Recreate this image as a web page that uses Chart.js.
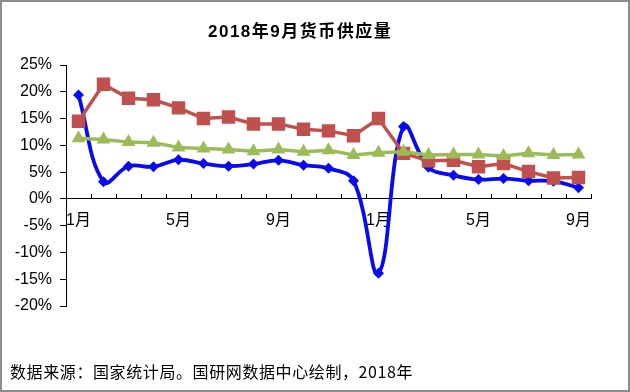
<!DOCTYPE html>
<html>
<head>
<meta charset="utf-8">
<script src="https://cdn.jsdelivr.net/npm/chart.js@4/dist/chart.umd.min.js"></script>
<style>
  html, body { margin: 0; padding: 0; background: #fff; }
  #wrap { position: relative; width: 630px; height: 392px; overflow: hidden; }
  #frame { position: absolute; left: 0; top: 0; width: 626px; height: 388px; border: 2px solid #8c8c8c; box-sizing: content-box; pointer-events: none; }
  #title { position: absolute; left: 208px; top: 17px; font: bold 17px "Liberation Sans", "Noto Sans CJK SC", sans-serif; color: #000; white-space: nowrap; letter-spacing: 1.5px; }
  #source { position: absolute; left: 10px; top: 359px; font: 16px "Noto Sans CJK SC", sans-serif; color: #000; white-space: nowrap; letter-spacing: 0.6px; }
  canvas { position: absolute; left: 0; top: 0; }
</style>
</head>
<body>
<div id="wrap">
  <canvas id="c" width="630" height="392"></canvas>
  <div id="title">2018年9月货币供应量</div>
  <div id="source">数据来源：国家统计局。国研网数据中心绘制，2018年</div>
  <div id="frame"></div>
</div>
<script>
// Months Jan 2017 .. Sep 2018
const categories = ['1月','2月','3月','4月','5月','6月','7月','8月','9月','10月','11月','12月',
                    '1月','2月','3月','4月','5月','6月','7月','8月','9月'];
// M0 (blue)
const m0 = [19.4, 3.2, 6.1, 6.0, 7.3, 6.6, 6.1, 6.5, 7.2, 6.3, 5.7, 3.4,
            -13.9, 13.5, 5.9, 4.4, 3.6, 3.8, 3.4, 3.3, 2.1];
// M1 (red)
const m1 = [14.5, 21.4, 18.8, 18.5, 17.0, 15.0, 15.3, 14.0, 14.0, 13.0, 12.7, 11.8,
            15.0, 8.5, 7.1, 7.2, 6.0, 6.6, 5.1, 3.9, 4.0];
// M2 (green)
const m2 = [11.3, 11.1, 10.6, 10.5, 9.6, 9.4, 9.2, 8.9, 9.2, 8.8, 9.1, 8.2,
            8.6, 8.8, 8.2, 8.3, 8.3, 8.0, 8.5, 8.2, 8.3];
const yTicks = [-20, -15, -10, -5, 0, 5, 10, 15, 20, 25];

const tickFont = { family: '"Liberation Sans", "Noto Sans CJK SC", sans-serif', size: 16 };

new Chart(document.getElementById('c'), {
  type: 'line',
  data: {
    labels: categories,
    datasets: [
      { label: 'M2', data: m2, order: 0, borderColor: '#9BBB59', backgroundColor: '#9BBB59',
        borderWidth: 3.5, pointStyle: 'triangle', pointRadius: 8, pointBorderWidth: 0, tension: 0 },
      { label: 'M1', data: m1, order: 1, borderColor: '#C0504D', backgroundColor: '#C0504D',
        borderWidth: 3.5, pointStyle: 'rect', pointRadius: 9.5, pointBorderWidth: 0, tension: 0 },
      { label: 'M0', data: m0, order: 2, borderColor: '#0A0AF0', backgroundColor: '#0A0AF0',
        borderWidth: 3.8, pointStyle: 'rectRot', pointRadius: 5.5, pointBorderWidth: 0, tension: 0.4 }
    ]
  },
  options: {
    responsive: false,
    animation: false,
    devicePixelRatio: 1,
    layout: { padding: { left: 0, right: 39, top: 65, bottom: 86 } },
    plugins: { legend: { display: false }, title: { display: false }, tooltip: { enabled: false } },
    scales: {
      y: {
        min: -20, max: 25,
        afterBuildTicks: s => { s.ticks = yTicks.map(v => ({ value: v })); },
        afterFit: s => { s.width = 66; },
        ticks: { callback: v => v + '%', color: '#000', font: tickFont, padding: 8 },
        grid: { drawOnChartArea: false, drawTicks: true, tickLength: 6, color: '#000', lineWidth: 1 },
        border: { display: true, color: '#000', width: 1 }
      },
      x: {
        position: { y: 0 },
        offset: true,
        ticks: { autoSkip: false, maxRotation: 0, color: '#000', font: tickFont, padding: 17,
                 callback: (v, i) => (i % 4 === 0 ? categories[i] : '') },
        grid: { offset: true, drawOnChartArea: false, drawTicks: true, tickLength: -5, color: '#000', lineWidth: 1 },
        border: { display: true, color: '#000', width: 1 }
      }
    }
  }
});
</script>
</body>
</html>
